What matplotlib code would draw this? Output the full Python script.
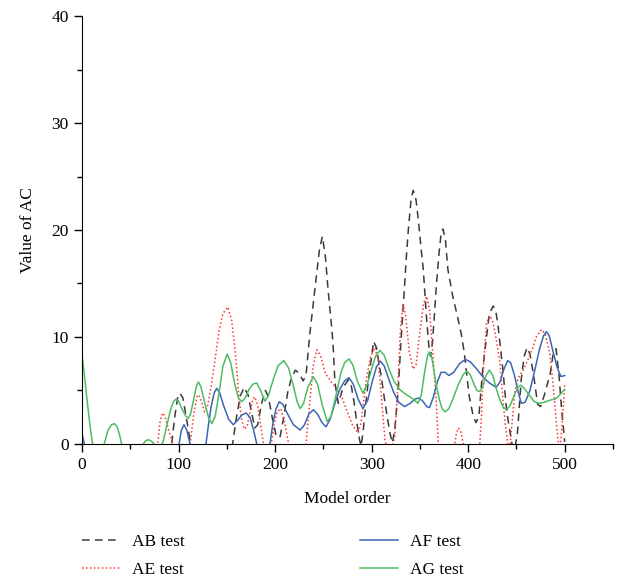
import numpy as np
import matplotlib.pyplot as plt
from matplotlib.ticker import MultipleLocator

plt.rcParams["font.family"] = ["Liberation Serif", "DejaVu Serif"]
plt.rcParams["font.size"] = 12

# AB test (dashed)
ab_x = [0, 88, 92.9, 96, 99, 101.5, 104.5, 108, 112, 116, 150, 156, 160, 164, 168, 172, 176, 179,
        182, 186, 190, 193, 197, 201, 205, 209, 213, 217, 221, 225, 229, 232, 236, 241, 246, 249,
        252, 255, 258, 260, 262, 265.5, 270.5, 276, 279, 282, 285, 287.5, 289, 291, 294, 297, 300,
        302, 305, 308, 310, 313, 315, 319, 321.5, 324, 327.6, 330, 333, 336, 338, 341, 343.2, 346,
        348.3, 351, 353.5, 357, 359.6, 361, 363, 365, 367, 370, 372, 374, 376.5, 379, 384, 389, 393,
        396, 401, 405, 408, 411, 415, 419, 422, 426, 429, 431, 436, 440, 443, 446, 448, 451, 455,
        458, 461, 464, 468, 472, 475, 479, 485, 488, 491, 494, 497, 500]
ab_y = [-3, -1.5, 0, 2.5, 4.3, 4.75, 4.3, 2.5, 0.3, -1, -1, 0, 2.5, 4.5, 5.3, 4.6, 2.8, 1.5,
        1.8, 3.8, 5.0, 4.4, 2.5, 0.8, 0.6, 2.5, 4.8, 6.2, 6.9, 6.6, 5.9, 6.4, 10.3, 14.3, 18.2, 19.4,
        17.6, 14.3, 11.5, 9.4, 5.7, 3.8, 5.3, 6.0, 5.4, 3.8, 1.8, 0.4, -0.2, 1.0, 3.8, 6.2, 8.2,
        9.6, 9.0, 7.3, 6.3, 4.4, 3.2, 1.0, 0.1, 1.4, 5.1, 9.0, 13.2, 17.5, 20.0, 23.0, 23.7, 22.8,
        21.0, 18.5, 16.3, 11.6, 8.8, 8.2, 9.5, 12.0, 14.8, 18.0, 19.7, 20.1, 19.0, 16.3, 13.8, 11.9, 10.2,
        8.5, 4.5, 2.7, 2.0, 2.5, 6.9, 10.0, 12.2, 12.9, 12.2, 11.0, 6.9, 3.0, 1.3, -0.3, -0.6, 1.0, 6.1,
        8.2, 9.0, 8.4, 6.3, 3.7, 3.5, 4.6, 6.6, 8.4, 8.9, 6.5, 3.0, 0.2]

# AE test (dotted)
ae_x = [0, 75, 78.5, 81, 83.5, 86, 90, 94.6, 100, 107, 112, 115.5, 119, 121, 124, 127, 130, 134,
        138, 142, 146, 151, 155, 159, 162, 165, 168, 171, 174, 177, 179, 182, 185, 188, 192, 196,
        199, 202, 206, 210, 214, 219, 226, 232, 236, 239.5, 243.3, 247, 252, 259, 264, 269, 274,
        280, 286, 289, 292, 295, 299, 303.5, 307, 310, 313.8, 317, 321, 324, 327.5, 330, 332.5, 335,
        339, 343, 346, 350, 354, 357, 360, 362, 365, 367, 369, 373, 383, 386, 388, 390, 392.5, 395,
        401, 409, 412, 414, 416, 419, 422.5, 426, 430, 433, 436, 438.5, 441, 443, 445, 448.5, 452,
        457, 462, 467, 471, 476, 480, 484.5, 488, 490, 493, 495, 497, 500]
ae_y = [-2, -2, 0, 2.2, 2.9, 2.6, 1.2, 0, -1.5, -1.5, 0, 2.6, 4.4, 4.6, 3.9, 3.0, 3.5, 5.5,
        8.0, 10.6, 12.2, 12.8, 11.6, 8.4, 5.0, 2.4, 1.4, 1.6, 3.0, 4.2, 4.4, 3.6, 1.8, 0, -1.0, 0,
        1.8, 3.0, 3.3, 2.0, 0, -1.2, -1.0, 0, 4.0, 7.3, 8.8, 8.3, 6.6, 5.7, 5.2, 4.4, 3.2,
        1.8, 1.0, 2.0, 4.2, 6.3, 8.2, 9.0, 7.8, 4.5, 0.4, -0.8, -0.5, 0.7, 6.0, 11.0, 13.0, 12.2,
        8.6, 7.0, 7.4, 10.5, 13.2, 13.8, 12.5, 10.1, 6.5, 3.9, 0, -2, -1, 0, 1.1, 1.5, 1.1, 0,
        -2, -1, 0, 3.0, 7.5, 11.3, 12.0, 11.3, 9.3, 7.5, 4.2, 1.8, 0, -0.5, 1.5, 5.0, 6.2,
        6.9, 7.9, 9.0, 10.1, 10.7, 10.2, 8.5, 5.5, 3.5, 0.3, -0.5, 1.5, 5.5]

# AF test
af_x = [0, 2.5, 6, 95, 100.5, 103, 105.6, 108.5, 112, 117, 123, 128.4, 131, 134, 137, 139.5, 142.5,
        147, 152, 156.7, 161, 165.5, 170, 174, 178, 181, 187, 194.7, 197.5, 201, 204.4, 208, 213,
        219, 226, 230.5, 235, 239.6, 244, 248.5, 252.7, 257, 262, 267, 272, 276.5, 281, 286, 291,
        296, 300.5, 305, 309, 313, 318, 323, 328, 334, 340, 345, 349, 353, 357, 360, 364, 368, 372,
        376, 380, 385, 391, 397, 402, 408, 415, 422, 429, 433, 437, 441, 444, 448, 452, 455, 459,
        464, 469, 474, 478, 481, 484, 488, 492, 496, 500]
af_y = [1.0, 0, -2, -2, 0, 1.3, 1.8, 1.3, 0, -1.5, -1.5, 0, 1.8, 3.6, 4.8, 5.2, 4.8,
        3.5, 2.3, 1.8, 2.2, 2.7, 2.9, 2.5, 1.2, 0, -1.5, 0, 1.8, 3.3, 3.95, 3.7, 2.8,
        1.8, 1.3, 1.8, 2.8, 3.2, 2.8, 2.0, 1.6, 2.3, 3.8, 5.1, 5.9, 6.2, 5.6, 4.2, 3.3,
        4.1, 5.8, 7.2, 7.75, 7.3, 6.0, 4.8, 3.9, 3.5, 3.8, 4.2, 4.3, 4.0, 3.5, 3.4, 4.4, 5.8, 6.7,
        6.7, 6.4, 6.7, 7.5, 7.9, 7.7, 7.1, 6.3, 5.7, 5.3, 5.8, 7.0, 7.8, 7.6, 6.4, 4.8, 3.8, 3.9,
        5.0, 6.9, 8.9, 10.1, 10.5, 10.1, 8.6, 7.2, 6.3, 6.4]

# AG test
ag_x = [0, 3, 6, 9, 11, 15, 20, 23, 27, 30.5, 33.5, 36.5, 39, 41, 47, 57, 63.5, 66, 68.7, 71.5,
        74.6, 79, 84, 88, 92, 95, 97.5, 100, 104, 107.5, 110, 112.5, 116, 118.5, 120.5, 123, 127,
        131, 134.5, 138, 142, 146, 150.5, 154, 158, 162, 165.5, 169, 173, 177, 181, 185, 189.5, 193,
        198, 203, 209, 214, 219, 223, 226, 229.5, 234, 239.5, 244, 249, 254, 258, 263, 268, 272,
        276.5, 280.5, 285, 291, 295.5, 300, 304, 308.6, 313, 318, 323, 329, 336, 343, 348, 351.5,
        355, 358, 360, 362.5, 366, 370, 373, 376, 380, 385, 390, 395, 398.5, 402, 406, 409, 412,
        415, 418.5, 422, 425.5, 429, 433, 436.5, 440, 444, 448, 451.5, 454.5, 458, 463, 468, 473,
        479, 485, 490, 493, 497, 500]
ag_y = [8.3, 6.0, 3.5, 1.2, 0, -1.5, -1.2, 0, 1.3, 1.8, 1.9, 1.6, 0.8, 0, -1.5, -1.5, 0, 0.3, 0.4, 0.3,
        0, -0.6, 0.2, 1.8, 3.3, 4.0, 4.2, 4.0, 3.2, 2.6, 2.4, 2.8, 4.3, 5.4, 5.8, 5.4, 3.9,
        2.5, 1.9, 2.6, 4.8, 7.3, 8.4, 7.6, 5.7, 4.3, 3.95, 4.3, 5.1, 5.6, 5.7, 5.0, 4.0, 4.5,
        6.0, 7.3, 7.8, 7.1, 5.4, 3.9, 3.3, 3.8, 5.3, 6.3, 5.6, 3.6, 2.1, 2.6, 4.5, 6.6, 7.6,
        7.95, 7.4, 5.9, 4.75, 5.6, 7.0, 8.2, 8.75, 8.3, 7.0, 5.9, 5.1, 4.6, 4.2, 3.8, 4.6,
        6.8, 8.3, 8.6, 8.0, 6.0, 4.2, 3.3, 3.0, 3.3, 4.4, 5.6, 6.5, 6.8, 6.5, 5.6, 5.0, 4.9,
        5.3, 6.4, 6.9, 6.4, 5.2, 4.1, 3.4, 3.2, 3.7, 4.6, 5.3, 5.5, 5.2, 4.6, 4.0, 3.8,
        3.9, 4.1, 4.2, 4.4, 4.8, 5.1]

fig = plt.figure(figsize=(6.17, 5.8), dpi=100)
ax = fig.add_axes([0.1329, 0.2345, 0.8606, 0.7379])

l_ab, = ax.plot(ab_x, ab_y, color="#3a3a3a", lw=1.1, dashes=(5, 3.5), label="AB test")
l_ae, = ax.plot(ae_x, ae_y, color="#ff3333", lw=1.1, linestyle=(0, (1, 1.6)), label="AE test")
l_af, = ax.plot(af_x, af_y, color="#3b66b4", lw=1.1, label="AF test")
l_ag, = ax.plot(ag_x, ag_y, color="#4dbd60", lw=1.1, label="AG test")

ax.set_xlim(0, 550)
ax.set_ylim(0, 40)
ax.xaxis.set_major_locator(MultipleLocator(100))
ax.xaxis.set_minor_locator(MultipleLocator(50))
ax.yaxis.set_major_locator(MultipleLocator(10))
ax.yaxis.set_minor_locator(MultipleLocator(5))
ax.tick_params(which="major", length=6, width=1, labelsize=12.5)
ax.tick_params(which="minor", length=3.5, width=1)
ax.spines["top"].set_visible(False)
ax.spines["right"].set_visible(False)
ax.set_xlabel("Model order", fontsize=12.5, labelpad=13)
ax.set_ylabel("Value of AC", fontsize=12.5, labelpad=11)

leg_kw = dict(loc="upper left", frameon=False, handlelength=2.2, handletextpad=0.7,
              labelspacing=0.68, borderpad=0, borderaxespad=0, fontsize=12.5)
fig.legend(handles=[l_ab, l_ae], bbox_to_anchor=(82 / 617, 0.08), **leg_kw)
fig.legend(handles=[l_af, l_ag], bbox_to_anchor=(360 / 617, 0.08), **leg_kw)

plt.savefig("out.png")
